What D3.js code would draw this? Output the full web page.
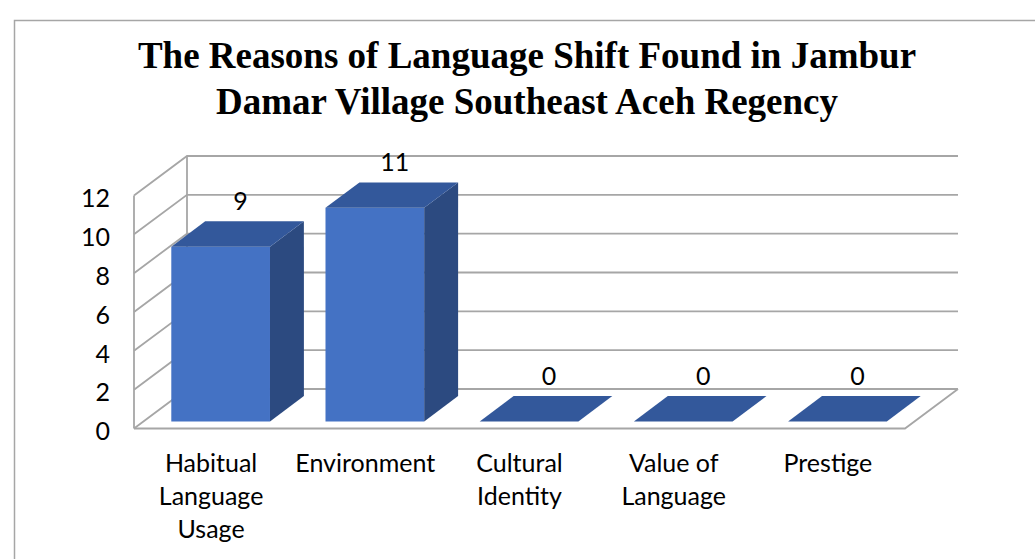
<!DOCTYPE html>
<html>
<head>
<meta charset="utf-8">
<script src="https://cdn.jsdelivr.net/npm/d3@7"></script>
<style>
body { margin: 0; background: #fff; }
text { font-family: Lato, "Noto Sans", sans-serif; }
</style>
</head>
<body>
<script>
var categories = ["Habitual Language Usage", "Environment", "Cultural Identity", "Value of Language", "Prestige"];
var counts = [9, 11, 0, 0, 0];
var yTicks = [0, 2, 4, 6, 8, 10, 12];
var titleLines = ["The Reasons of Language Shift Found in Jambur", "Damar Village Southeast Aceh Regency"];

var width = 1035, height = 559;
var depthX = 53, depthY = 39.5;      // floor depth, front edge -> back wall
var barFront = 0.18, barBack = 0.82; // where the bar sits in that depth
var gridColor = "#a6a6a6";

var svg = d3.select("body").append("svg")
    .attr("width", width)
    .attr("height", height);

// chart border (only left and top are inside the picture)
svg.append("path")
    .attr("d", "M14.5," + height + "V20.5H" + width)
    .attr("fill", "none")
    .attr("stroke", "#a6a6a6")
    .attr("stroke-width", 1.5);

svg.append("g").selectAll("text")
    .data(titleLines)
    .enter().append("text")
    .attr("x", 527)
    .attr("y", function (d, i) { return 68 + i * 46; })
    .attr("text-anchor", "middle")
    .style("font-family", "'Liberation Serif', 'Times New Roman', serif")
    .style("font-weight", "bold")
    .style("font-size", "37px")
    .text(function (d) { return d; });

var x = d3.scaleBand().domain(categories).range([134, 905])
    .paddingInner(0.36).paddingOuter(0.18);
var y = d3.scaleLinear().domain([0, 12]).range([428.5, 195.5]);

function pt(px, py, d) { return [px + depthX * d, py - depthY * d]; }
var line = d3.line();

var x0 = x.range()[0], x1 = x.range()[1];
var walls = svg.append("g")
    .attr("fill", "none")
    .attr("stroke", gridColor)
    .attr("stroke-width", 1.8);

// left wall diagonals + back wall gridlines
yTicks.forEach(function (v) {
    walls.append("path").attr("d", line([pt(x0, y(v), 0), pt(x0, y(v), 1), pt(x1, y(v), 1)]));
});
// wall verticals
walls.append("path").attr("d", line([pt(x0, y(0), 0), pt(x0, y(12), 0)]));
walls.append("path").attr("d", line([pt(x0, y(0), 1), pt(x0, y(12), 1)]));
// floor front and right edge
walls.append("path").attr("d", line([pt(x0, y(0), 0), pt(x1, y(0), 0), pt(x1, y(0), 1)]));

// y axis labels
svg.append("g").selectAll("text")
    .data(yTicks)
    .enter().append("text")
    .attr("x", 110)
    .attr("y", function (d) { return y(d) + 3; })
    .attr("dy", "0.35em")
    .attr("text-anchor", "end")
    .style("font-size", "25px")
    .attr("fill", "#000")
    .text(function (d) { return d; });

// bars
var bars = svg.append("g").selectAll("g")
    .data(categories)
    .enter().append("g");

bars.append("path") // front
    .attr("fill", "#4472c4")
    .attr("d", function (d, i) {
        var a = x(d), b = a + x.bandwidth(), t = y(counts[i]), z = y(0);
        return line([pt(a, t, barFront), pt(b, t, barFront), pt(b, z, barFront), pt(a, z, barFront)]) + "Z";
    });

bars.append("path") // side
    .attr("fill", "#2c4a80")
    .attr("d", function (d, i) {
        var b = x(d) + x.bandwidth(), t = y(counts[i]), z = y(0);
        return line([pt(b, t, barFront), pt(b, t, barBack), pt(b, z, barBack), pt(b, z, barFront)]) + "Z";
    });

bars.append("path") // top
    .attr("fill", "#33589b")
    .attr("d", function (d, i) {
        var a = x(d), b = a + x.bandwidth(), t = y(counts[i]);
        return line([pt(a, t, barFront), pt(b, t, barFront), pt(b, t, barBack), pt(a, t, barBack)]) + "Z";
    });

// value labels
bars.append("text")
    .attr("x", function (d) { return x(d) + x.bandwidth() / 2 + depthX * (barFront + barBack) / 2 + 3; })
    .attr("y", function (d, i) { return pt(0, y(counts[i]), barBack)[1] - 20; })
    .attr("dy", "0.35em")
    .attr("text-anchor", "middle")
    .style("font-size", "25px")
    .attr("fill", "#000")
    .text(function (d, i) { return counts[i]; });

// category labels, wrapped
var cats = svg.append("g").selectAll("text")
    .data(categories)
    .enter().append("text")
    .attr("text-anchor", "middle")
    .style("font-size", "25px")
    .attr("fill", "#000")
    .each(function (d) {
        var el = d3.select(this), words = d.split(" "), lines = [], cur = [];
        var probe = el.append("tspan");
        words.forEach(function (w) {
            var test = cur.concat([w]).join(" ");
            probe.text(test);
            if (cur.length && probe.node().getComputedTextLength() > 130) {
                lines.push(cur.join(" "));
                cur = [w];
            } else {
                cur.push(w);
            }
        });
        lines.push(cur.join(" "));
        probe.remove();
        var cx = x(d) + x.bandwidth() / 2;
        lines.forEach(function (l, k) {
            el.append("tspan")
                .attr("x", cx)
                .attr("y", 463 + k * 33)
                .attr("dy", "0.35em")
                .text(l);
        });
    });
</script>
</body>
</html>
